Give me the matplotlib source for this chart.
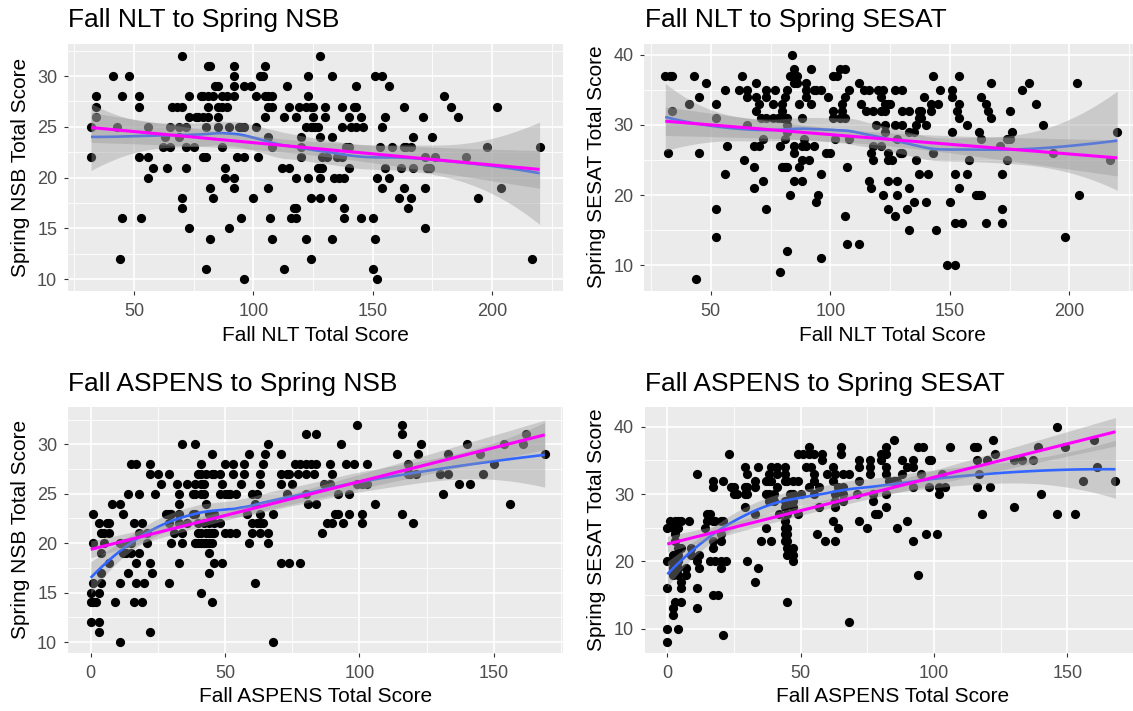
import numpy as np
import matplotlib
matplotlib.use("Agg")
import matplotlib.pyplot as plt
from matplotlib.ticker import FixedLocator

plt.rcParams["font.family"] = ["Liberation Sans", "DejaVu Sans"]

# Each row: (spring score, [fall scores of the students with that spring score])
nsb_by_nlt = [
    (32, [70, 128]),
    (31, [81, 82, 92, 105]),
    (30, [41, 48, 92, 103, 104, 123, 133, 151, 154]),
    (29, [84, 85, 92, 96, 99, 114, 143, 157]),
    (28, [34, 45, 52, 73, 78, 79, 81, 83, 87, 89, 92, 101, 105, 106, 108, 123, 180]),
    (27, [34, 52, 66, 68, 70, 81, 85, 87, 89, 106, 108, 115, 119, 122, 124, 125, 130,
          137, 142, 143, 163, 183, 202]),
    (26, [34, 73, 76, 77, 79, 81, 85, 105, 113, 118, 125, 130, 140, 145, 155, 171, 186]),
    (25, [32, 43, 56, 65, 69, 72, 80, 85, 90, 94, 95, 96, 101, 122, 124, 125, 126, 127,
          137, 141, 143, 146, 154]),
    (24, [63, 69, 106, 120, 128, 133, 167, 175]),
    (23, [62, 65, 72, 75, 87, 108, 120, 139, 140, 153, 158, 163, 164, 166, 198, 220]),
    (22, [32, 52, 56, 79, 80, 93, 96, 102, 120, 129, 131, 135, 137, 172, 176, 189]),
    (21, [58, 64, 72, 88, 112, 115, 127, 128, 129, 140, 155, 162, 167, 173, 174]),
    (20, [56, 88, 92, 118, 123, 128, 134, 136, 138, 152, 157]),
    (19, [82, 92, 106, 154, 163, 172, 204]),
    (18, [70, 83, 100, 124, 128, 133, 161, 166, 194]),
    (17, [70, 117, 118, 138, 165]),
    (16, [45, 53, 95, 107, 116, 118, 138, 145, 150]),
    (15, [73, 90, 172]),
    (14, [82, 108, 122, 133, 151]),
    (12, [44, 124, 217]),
    (11, [80, 113, 150]),
    (10, [96, 152]),
]

sesat_by_nlt = [
    (40, [84]),
    (38, [85, 92, 104, 106]),
    (37, [31, 33, 34, 43, 63, 83, 86, 101, 103, 143, 154]),
    (36, [48, 69, 85, 86, 90, 112, 167, 183, 203]),
    (35, [56, 62, 65, 73, 77, 82, 90, 93, 94, 96, 108, 114, 116, 120, 122, 127, 130,
          146, 151, 180]),
    (34, [45, 65, 69, 73, 81, 90, 99, 106, 121, 139, 151, 163]),
    (33, [41, 52, 70, 76, 80, 87, 92, 105, 113, 123, 124, 125, 142, 145, 154, 165, 186]),
    (32, [34, 69, 80, 101, 105, 115, 118, 121, 123, 130, 133, 137, 138, 142, 153, 166, 175]),
    (31, [52, 71, 73, 76, 78, 80, 82, 88, 101, 104, 106, 137, 138, 154, 167]),
    (30, [65, 82, 119, 123, 127, 130, 136, 140, 157, 189]),
    (29, [82, 123, 133, 135, 151, 162, 176, 220]),
    (28, [72, 81, 89, 102, 108, 128, 163, 174, 175]),
    (27, [57, 68, 70, 79, 85, 88, 90, 93, 118, 121, 171]),
    (26, [32, 45, 85, 98, 100, 117, 124, 129, 130, 143, 193]),
    (25, [64, 88, 91, 118, 124, 126, 136, 158, 174, 217]),
    (24, [68, 80, 81, 82, 87, 107]),
    (23, [56, 96, 137, 141, 152, 157, 172]),
    (22, [72, 85, 88, 116, 124, 128]),
    (21, [68, 117, 133, 154]),
    (20, [83, 95, 122, 128, 161, 162, 163, 204]),
    (19, [94, 135, 140, 150]),
    (18, [52, 73, 124, 132, 172]),
    (17, [106, 127]),
    (16, [152, 155, 165, 172]),
    (15, [133, 144]),
    (14, [52, 198]),
    (13, [107, 112]),
    (12, [82]),
    (11, [96]),
    (10, [149, 152]),
    (9, [79]),
    (8, [44]),
]

nsb_by_aspens = [
    (32, [99, 116]),
    (31, [80, 84, 116, 162]),
    (30, [34, 39, 66, 93, 123, 140, 154, 161]),
    (29, [45, 59, 65, 71, 114, 122, 133, 145, 169]),
    (28, [15, 17, 22, 41, 50, 53, 57, 64, 76, 78, 80, 82, 84, 89, 95, 98, 103, 118, 150]),
    (27, [22, 25, 29, 40, 41, 43, 45, 46, 48, 53, 57, 63, 71, 73, 74, 77, 80, 83, 90,
          118, 119, 121, 130, 133, 146]),
    (26, [26, 32, 36, 39, 41, 42, 49, 56, 63, 71, 75, 87, 89, 99, 101, 103, 137, 141]),
    (25, [14, 18, 24, 33, 38, 39, 41, 42, 48, 50, 51, 52, 54, 60, 62, 73, 80, 92, 96, 131]),
    (24, [8, 11, 33, 43, 61, 81, 84, 106, 156]),
    (23, [1, 12, 28, 29, 30, 33, 38, 39, 44, 45, 46, 58, 63, 68, 91, 92, 96, 101, 116]),
    (22, [3, 6, 7, 16, 19, 29, 33, 36, 40, 42, 44, 46, 48, 60, 62, 63, 64, 88, 90, 94,
          101, 120]),
    (21, [4, 5, 7, 18, 21, 31, 34, 40, 41, 43, 44, 45, 46, 50, 52, 54, 60, 63, 66, 86]),
    (20, [1, 5, 11, 13, 15, 21, 30, 34, 39, 40, 41, 42, 43, 44, 45, 59, 66]),
    (19, [4, 12, 13, 15, 18, 44]),
    (18, [7, 17, 22, 33, 46, 49, 71, 74, 78]),
    (17, [4, 14, 23, 44]),
    (16, [1, 4, 11, 17, 20, 29, 61]),
    (15, [0, 3, 41]),
    (14, [0, 1, 2, 9, 16, 19, 45]),
    (12, [0, 3]),
    (11, [3, 22]),
    (10, [11, 68]),
]

sesat_by_aspens = [
    (40, [146]),
    (38, [85, 122, 160]),
    (37, [53, 65, 82, 94, 96, 106, 115, 116, 139, 149]),
    (36, [23, 49, 51, 53, 55, 58, 65, 80, 82, 123]),
    (35, [58, 72, 76, 80, 88, 92, 98, 99, 116, 120, 130, 133, 137]),
    (34, [29, 34, 39, 41, 44, 52, 54, 62, 72, 76, 82, 90, 92, 161]),
    (33, [11, 30, 38, 41, 44, 55, 60, 63, 66, 68, 76, 82, 88, 95, 103, 117]),
    (32, [17, 21, 33, 37, 38, 39, 44, 45, 47, 49, 55, 62, 72, 83, 85, 86, 156, 168]),
    (31, [17, 24, 25, 29, 30, 33, 41, 53, 57, 64, 66, 92, 98, 102, 104, 116, 121]),
    (30, [25, 26, 29, 30, 37, 38, 40, 46, 47, 50, 55, 63, 66, 71, 77, 82, 102, 140]),
    (29, [38, 40, 44, 45, 47, 63, 66, 77]),
    (28, [29, 44, 47, 57, 63, 82, 130]),
    (27, [15, 16, 33, 42, 45, 49, 78, 79, 118, 146, 153]),
    (26, [1, 3, 4, 5, 8, 15, 17, 18, 20, 21, 44, 62, 72, 90]),
    (25, [0, 2, 3, 4, 14, 37, 44, 45, 64, 75, 86]),
    (24, [3, 20, 44, 45, 56, 97, 101]),
    (23, [3, 17, 20, 35, 39, 44, 45, 59, 63, 92]),
    (22, [4, 5, 9, 17, 45, 47]),
    (21, [2, 4, 9, 12, 45, 47]),
    (20, [0, 2, 4, 11, 16, 18, 20, 22, 30, 47]),
    (19, [2, 4, 7, 12, 20, 34]),
    (18, [2, 4, 7, 94]),
    (17, [5, 33]),
    (16, [0, 5, 11]),
    (15, [17, 19]),
    (14, [3, 5, 45]),
    (13, [2, 11]),
    (12, [2]),
    (11, [68]),
    (10, [0, 4]),
    (9, [21]),
    (8, [0]),
]

titles = ["Fall NLT to Spring NSB", "Fall NLT to Spring SESAT",
          "Fall ASPENS to Spring NSB", "Fall ASPENS to Spring SESAT"]
x_titles = ["Fall NLT Total Score", "Fall NLT Total Score",
            "Fall ASPENS Total Score", "Fall ASPENS Total Score"]
y_titles = ["Spring NSB Total Score", "Spring SESAT Total Score",
            "Spring NSB Total Score", "Spring SESAT Total Score"]
x_breaks = [[50, 100, 150, 200], [50, 100, 150, 200], [0, 50, 100, 150], [0, 50, 100, 150]]
y_breaks = [[10, 15, 20, 25, 30], [10, 20, 30, 40], [10, 15, 20, 25, 30], [10, 20, 30, 40]]


def expand(rows):
    xs, ys = [], []
    for score, fall in rows:
        xs += fall
        ys += [score] * len(fall)
    return np.array(xs, float), np.array(ys, float)


def t975(df):
    z = 1.959964
    return z + (z**3 + z) / (4 * df) + (5 * z**5 + 16 * z**3 + 3 * z) / (96 * df**2)


def lm_band(x, y, grid):
    n = len(x)
    xm = x.mean()
    sxx = np.sum((x - xm) ** 2)
    b = np.sum((x - xm) * (y - y.mean())) / sxx
    a = y.mean() - b * xm
    res = y - (a + b * x)
    s = np.sqrt(np.sum(res**2) / (n - 2))
    fit = a + b * grid
    se = s * np.sqrt(1 / n + (grid - xm) ** 2 / sxx)
    t = t975(n - 2)
    return fit, fit - t * se, fit + t * se


def loess_band(x, y, grid, span=0.75):
    n = len(x)
    q = int(np.floor(n * span))

    def row(x0):
        d = np.abs(x - x0)
        h = max(np.sort(d)[q - 1], 1e-9)
        u = np.clip(d / h, 0, 1)
        w = (1 - u**3) ** 3
        X = np.column_stack([np.ones(n), x - x0, (x - x0) ** 2])
        XtW = X.T * w
        return np.linalg.solve(XtW @ X, XtW)[0]

    L = np.array([row(v) for v in x])
    res = y - L @ y
    M = (np.eye(n) - L).T @ (np.eye(n) - L)
    one = np.trace(M)
    two = np.sum(M * M)
    sigma = np.sqrt(np.sum(res**2) / one)
    Lg = np.array([row(v) for v in grid])
    fit = Lg @ y
    se = sigma * np.sqrt(np.sum(Lg**2, axis=1))
    t = t975(one**2 / two)
    return fit, fit - t * se, fit + t * se


W, H = 1133, 711
fig = plt.figure(figsize=(W / 100, H / 100), dpi=100)
fig.patch.set_facecolor("white")

# panel boxes in pixels: left, right, top, bottom
boxes = [(67.5, 563, 43.5, 290.5), (644, 1140, 43.5, 290.5),
         (67.5, 563, 406.5, 652.5), (644.5, 1140, 406.5, 652.5)]
xlims = [(22.13, 229.8), (22.1, 229.5), (-8.63, 175.8), (-8.55, 177.2)]
ylims = [(8.9, 33.2), (6.36, 41.64), (8.94, 33.83), (6.46, 43.0)]
datasets = [nsb_by_nlt, sesat_by_nlt, nsb_by_aspens, sesat_by_aspens]

for i, rows in enumerate(datasets):
    l, r, t, b = boxes[i]
    ax = fig.add_axes([l / W, 1 - b / H, (r - l) / W, (b - t) / H])
    ax.set_facecolor("#EBEBEB")
    for s in ax.spines.values():
        s.set_visible(False)
    ax.set_xlim(*xlims[i])
    ax.set_ylim(*ylims[i])

    xb, yb = x_breaks[i], y_breaks[i]
    dx, dy = xb[1] - xb[0], yb[1] - yb[0]
    ax.xaxis.set_major_locator(FixedLocator(xb))
    ax.yaxis.set_major_locator(FixedLocator(yb))
    ax.xaxis.set_minor_locator(FixedLocator(np.arange(xb[0] - dx * 1.5, xb[-1] + dx * 1.6, dx)))
    ax.yaxis.set_minor_locator(FixedLocator(np.arange(yb[0] - dy * 1.5, yb[-1] + dy * 1.6, dy)))
    ax.set_axisbelow(True)
    ax.grid(which="major", color="white", linewidth=1.2)
    ax.grid(which="minor", color="white", linewidth=0.6)
    ax.tick_params(which="minor", length=0)
    ax.tick_params(which="major", length=2.9, width=0.8, color="#333333",
                   labelcolor="#4D4D4D", labelsize=13)
    ax.tick_params(axis="x", pad=6.0)
    ax.tick_params(axis="y", pad=4.5)

    x, y = expand(rows)
    ax.scatter(x, y, s=44, c="black", linewidths=0, zorder=2)

    grid = np.linspace(x.min(), x.max(), 80)
    lf, llo, lhi = loess_band(x, y, grid)
    ax.fill_between(grid, llo, lhi, color="#999999", alpha=0.4, linewidth=0, zorder=3)
    ax.plot(grid, lf, color="#3366FF", linewidth=1.9, zorder=4, solid_capstyle="butt")
    mf, mlo, mhi = lm_band(x, y, grid)
    ax.fill_between(grid, mlo, mhi, color="#999999", alpha=0.4, linewidth=0, zorder=5)
    ax.plot(grid, mf, color="#FF00FF", linewidth=2.2, zorder=6, solid_capstyle="butt")

    top_title_base = 27.3 if t < 100 else 390.7
    fig.text(l / W + 0.0008, 1 - top_title_base / H, titles[i], fontsize=19,
             ha="left", va="baseline", color="black")
    xt_y = 335.5 if t < 100 else 697
    fig.text((l + min(r, 1140)) / 2 / W, 1 - xt_y / H, x_titles[i], fontsize=15,
             ha="center", va="center", color="black")
    yt_x = 21 if l < 100 else 597
    fig.text(yt_x / W, 1 - (t + b) / 2 / H, y_titles[i], fontsize=15, rotation=90,
             ha="center", va="center", color="black")

fig.savefig("out.png", dpi=100, facecolor="white")
